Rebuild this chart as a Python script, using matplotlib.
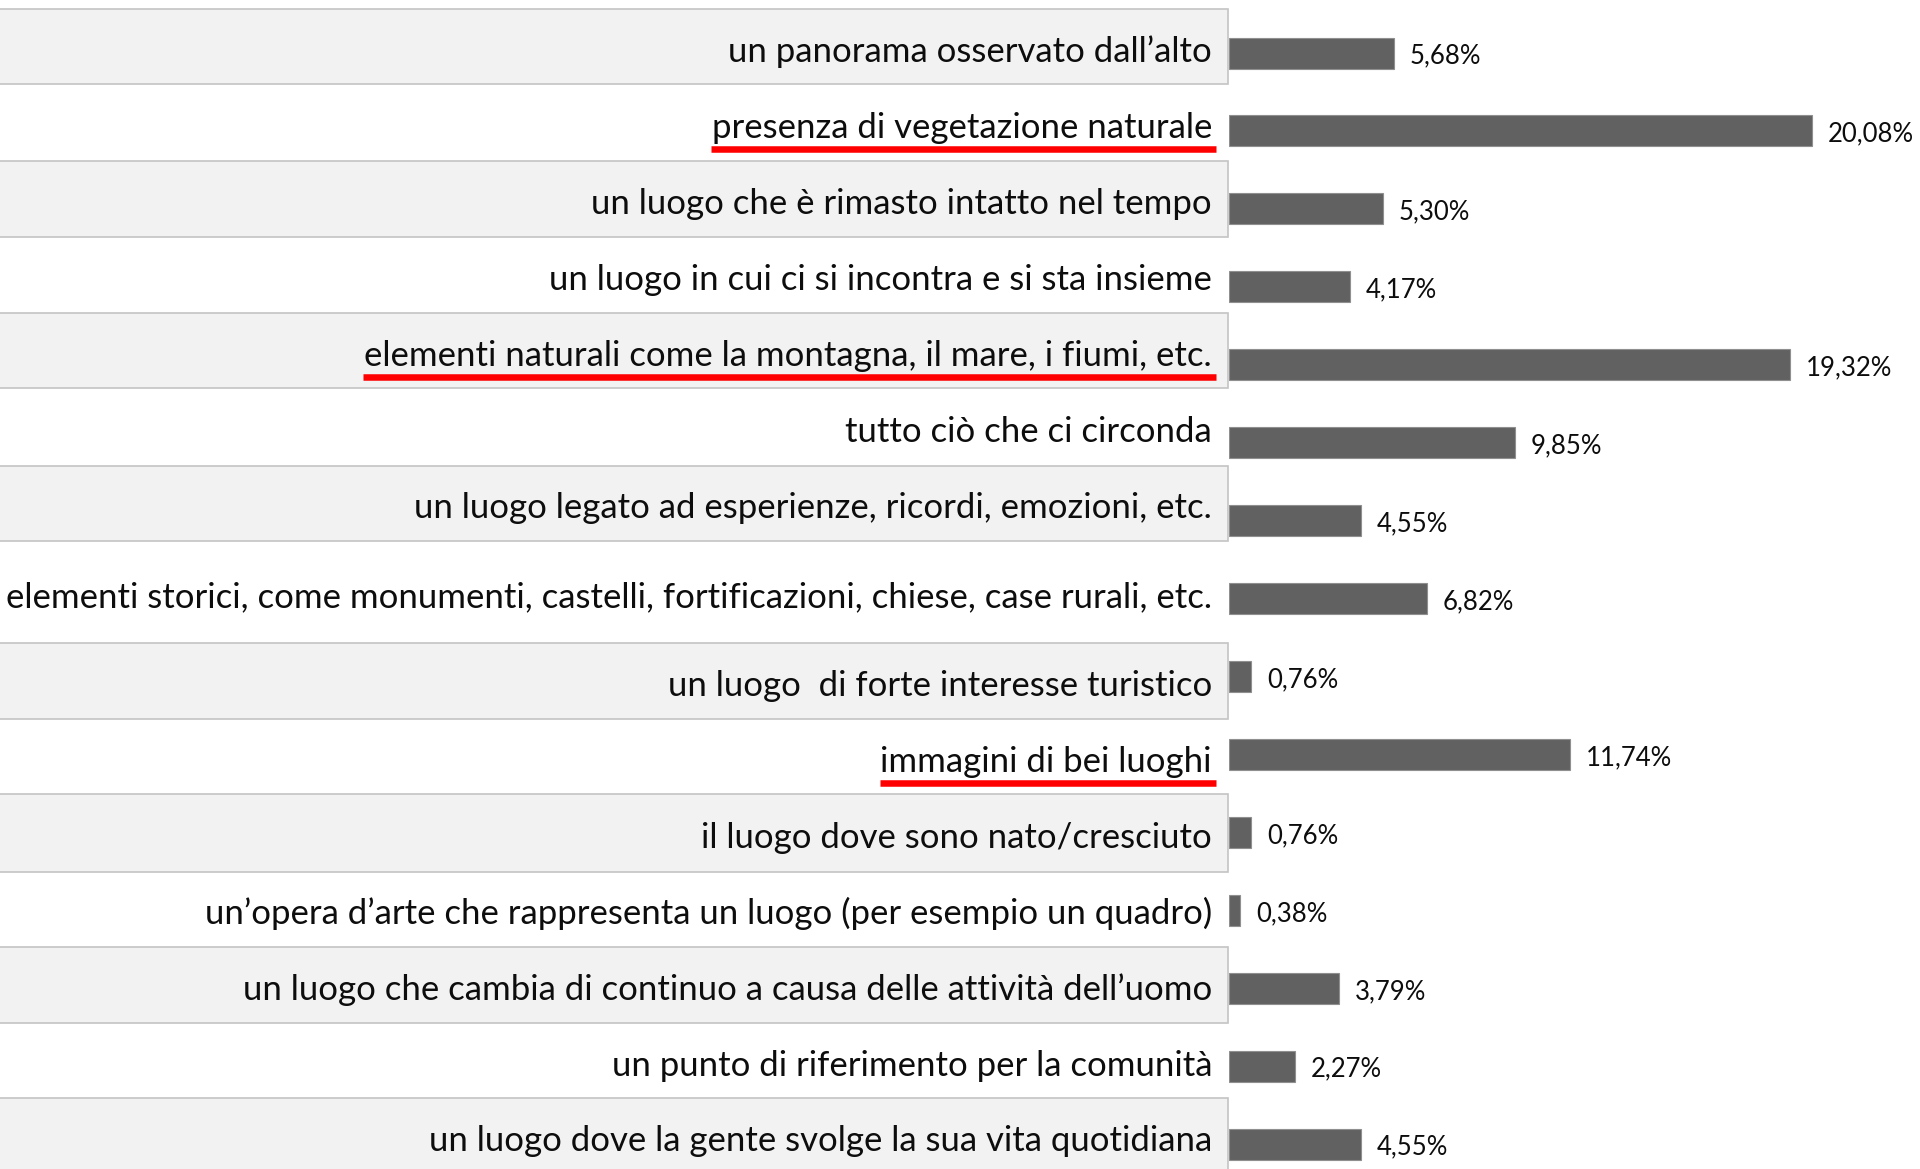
"""Horizontal bar chart of answers with a shaded label table on the left -> out.png"""
import matplotlib

matplotlib.use("Agg")
import matplotlib.pyplot as plt  # noqa: E402
from matplotlib.patches import Rectangle  # noqa: E402

CATEGORIES = [
    "un panorama osservato dall’alto",
    "presenza di vegetazione naturale",
    "un luogo che è rimasto intatto nel tempo",
    "un luogo in cui ci si incontra e si sta insieme",
    "elementi naturali come la montagna, il mare, i fiumi, etc.",
    "tutto ciò che ci circonda",
    "un luogo legato ad esperienze, ricordi, emozioni, etc.",
    "elementi storici, come monumenti, castelli, fortificazioni, chiese, case rurali, etc.",
    "un luogo  di forte interesse turistico",
    "immagini di bei luoghi",
    "il luogo dove sono nato/cresciuto",
    "un’opera d’arte che rappresenta un luogo (per esempio un quadro)",
    "un luogo che cambia di continuo a causa delle attività dell’uomo",
    "un punto di riferimento per la comunità",
    "un luogo dove la gente svolge la sua vita quotidiana",
]
VALUES = [5.68, 20.08, 5.30, 4.17, 19.32, 9.85, 4.55, 6.82, 0.76, 11.74, 0.76, 0.38, 3.79, 2.27, 4.55]
UNDERLINED = [
    "presenza di vegetazione naturale",
    "elementi naturali come la montagna, il mare, i fiumi, etc.",
    "immagini di bei luoghi",
]

# layout, in output pixels
W, H = 1920, 1169
ROW_EDGES = [9, 84, 161, 237, 313, 388, 466, 541, 643, 719, 794, 872, 947, 1023, 1098, 1174]
LABEL_RIGHT = 1212
LABEL_LEFT = 4
TABLE_RIGHT = 1227.5
BAR_X0 = 1229
PX_PER_PCT = 29.03
BAR_Y0, BAR_STEP, BAR_H = 53, 77.93, 31

plt.rcParams["font.family"] = ["Lato", "DejaVu Sans"]

fig = plt.figure(figsize=(W / 100, H / 100), dpi=100)
fig.patch.set_facecolor("white")

# --- label table ---------------------------------------------------------------
tab = fig.add_axes([0, 0, 1, 1])
tab.set_xlim(0, W)
tab.set_ylim(H, 0)
tab.axis("off")

for i in range(0, len(CATEGORIES), 2):
    top, bot = ROW_EDGES[i], ROW_EDGES[i + 1]
    tab.add_patch(Rectangle((-2, top), TABLE_RIGHT + 2, bot - top, facecolor="#f2f2f2",
                            edgecolor="#c4c4c4", lw=1.2, zorder=1))

texts = []
for i, c in enumerate(CATEGORIES):
    yc = (ROW_EDGES[i] + ROW_EDGES[i + 1]) / 2
    texts.append(tab.text(LABEL_RIGHT, yc + 15, c, ha="right", va="baseline",
                          fontsize=20, color="#0d0d0d", zorder=3))

# fit the font so the longest label fills the column
r = fig.canvas.get_renderer()
widest = max(t.get_window_extent(r).width for t in texts)
size = 20 * (LABEL_RIGHT - LABEL_LEFT) / widest
for t in texts:
    t.set_fontsize(size)

for i, c in enumerate(CATEGORIES):
    if c not in UNDERLINED:
        continue
    bb = texts[i].get_window_extent(r)
    yc = (ROW_EDGES[i] + ROW_EDGES[i + 1]) / 2 + 15 + 11
    tab.plot([bb.x0 - 1, bb.x1 + 4], [yc, yc], color="#ff0000", lw=4.7,
             solid_capstyle="butt", zorder=4)

# --- bars -------------------------------------------------------------------------
ax = fig.add_axes([BAR_X0 / W, 0, 1 - BAR_X0 / W, 1])
ax.set_xlim(0, (W - BAR_X0) / PX_PER_PCT)
ax.set_ylim((H - BAR_Y0) / BAR_STEP, -BAR_Y0 / BAR_STEP)
ax.axis("off")
ys = list(range(len(VALUES)))
ax.barh(ys, VALUES, height=BAR_H / BAR_STEP, color="#616161", edgecolor="#8f8f8f", lw=0.8)
for y, v in zip(ys, VALUES):
    ax.annotate(f"{v:.2f}".replace(".", ",") + "%", (v, y), xytext=(11.5, -7.7),
                textcoords="offset points", ha="left", va="baseline",
                fontsize=18.5, color="#0d0d0d")

fig.savefig("out.png", dpi=100)
